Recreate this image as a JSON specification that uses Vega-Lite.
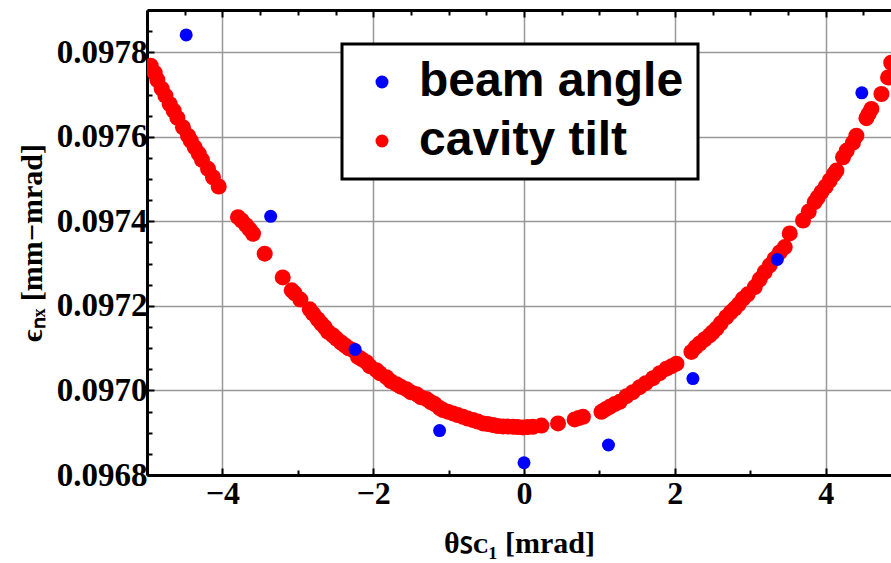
{
  "$schema": "https://vega.github.io/schema/vega-lite/v6.json",
  "width": 744,
  "height": 465,
  "autosize": {"type": "none"},
  "padding": {"left": 147, "top": 10, "right": 0, "bottom": 88},
  "background": "white",
  "config": {"view": {"stroke": null}, "font": "Liberation Serif"},
  "data": {"values": [
    {"theta": -4.951, "eps": 0.0977681, "series": "cavity tilt"},
    {"theta": -4.898, "eps": 0.0977516, "series": "cavity tilt"},
    {"theta": -4.862, "eps": 0.0977344, "series": "cavity tilt"},
    {"theta": -4.805, "eps": 0.0977138, "series": "cavity tilt"},
    {"theta": -4.756, "eps": 0.0976973, "series": "cavity tilt"},
    {"theta": -4.699, "eps": 0.0976777, "series": "cavity tilt"},
    {"theta": -4.646, "eps": 0.0976619, "series": "cavity tilt"},
    {"theta": -4.597, "eps": 0.0976446, "series": "cavity tilt"},
    {"theta": -4.523, "eps": 0.0976224, "series": "cavity tilt"},
    {"theta": -4.456, "eps": 0.0976028, "series": "cavity tilt"},
    {"theta": -4.420, "eps": 0.097591, "series": "cavity tilt"},
    {"theta": -4.367, "eps": 0.0975752, "series": "cavity tilt"},
    {"theta": -4.314, "eps": 0.0975603, "series": "cavity tilt"},
    {"theta": -4.271, "eps": 0.0975455, "series": "cavity tilt"},
    {"theta": -4.191, "eps": 0.0975242, "series": "cavity tilt"},
    {"theta": -4.125, "eps": 0.0975044, "series": "cavity tilt"},
    {"theta": -4.049, "eps": 0.0974824, "series": "cavity tilt"},
    {"theta": -3.793, "eps": 0.0974099, "series": "cavity tilt"},
    {"theta": -3.744, "eps": 0.0974021, "series": "cavity tilt"},
    {"theta": -3.682, "eps": 0.0973903, "series": "cavity tilt"},
    {"theta": -3.638, "eps": 0.0973809, "series": "cavity tilt"},
    {"theta": -3.594, "eps": 0.0973707, "series": "cavity tilt"},
    {"theta": -3.439, "eps": 0.0973235, "series": "cavity tilt"},
    {"theta": -3.200, "eps": 0.0972675, "series": "cavity tilt"},
    {"theta": -3.081, "eps": 0.0972368, "series": "cavity tilt"},
    {"theta": -3.041, "eps": 0.0972298, "series": "cavity tilt"},
    {"theta": -2.966, "eps": 0.0972149, "series": "cavity tilt"},
    {"theta": -2.842, "eps": 0.097192, "series": "cavity tilt"},
    {"theta": -2.798, "eps": 0.0971818, "series": "cavity tilt"},
    {"theta": -2.736, "eps": 0.0971684, "series": "cavity tilt"},
    {"theta": -2.687, "eps": 0.0971582, "series": "cavity tilt"},
    {"theta": -2.643, "eps": 0.0971495, "series": "cavity tilt"},
    {"theta": -2.599, "eps": 0.0971384, "series": "cavity tilt"},
    {"theta": -2.537, "eps": 0.0971306, "series": "cavity tilt"},
    {"theta": -2.488, "eps": 0.0971228, "series": "cavity tilt"},
    {"theta": -2.431, "eps": 0.0971141, "series": "cavity tilt"},
    {"theta": -2.378, "eps": 0.097107, "series": "cavity tilt"},
    {"theta": -2.325, "eps": 0.0970999, "series": "cavity tilt"},
    {"theta": -2.268, "eps": 0.0970952, "series": "cavity tilt"},
    {"theta": -2.202, "eps": 0.0970793, "series": "cavity tilt"},
    {"theta": -2.153, "eps": 0.0970739, "series": "cavity tilt"},
    {"theta": -2.090, "eps": 0.0970668, "series": "cavity tilt"},
    {"theta": -2.046, "eps": 0.0970574, "series": "cavity tilt"},
    {"theta": -1.958, "eps": 0.0970479, "series": "cavity tilt"},
    {"theta": -1.914, "eps": 0.0970409, "series": "cavity tilt"},
    {"theta": -1.825, "eps": 0.0970314, "series": "cavity tilt"},
    {"theta": -1.768, "eps": 0.097022, "series": "cavity tilt"},
    {"theta": -1.692, "eps": 0.0970149, "series": "cavity tilt"},
    {"theta": -1.635, "eps": 0.097009, "series": "cavity tilt"},
    {"theta": -1.560, "eps": 0.0970031, "series": "cavity tilt"},
    {"theta": -1.503, "eps": 0.096996, "series": "cavity tilt"},
    {"theta": -1.427, "eps": 0.0969913, "series": "cavity tilt"},
    {"theta": -1.370, "eps": 0.0969842, "series": "cavity tilt"},
    {"theta": -1.294, "eps": 0.0969795, "series": "cavity tilt"},
    {"theta": -1.237, "eps": 0.0969724, "series": "cavity tilt"},
    {"theta": -1.184, "eps": 0.0969677, "series": "cavity tilt"},
    {"theta": -1.118, "eps": 0.0969582, "series": "cavity tilt"},
    {"theta": -1.074, "eps": 0.0969535, "series": "cavity tilt"},
    {"theta": -1.012, "eps": 0.0969499, "series": "cavity tilt"},
    {"theta": -0.942, "eps": 0.0969457, "series": "cavity tilt"},
    {"theta": -0.879, "eps": 0.0969417, "series": "cavity tilt"},
    {"theta": -0.809, "eps": 0.0969377, "series": "cavity tilt"},
    {"theta": -0.747, "eps": 0.0969334, "series": "cavity tilt"},
    {"theta": -0.676, "eps": 0.0969299, "series": "cavity tilt"},
    {"theta": -0.614, "eps": 0.0969263, "series": "cavity tilt"},
    {"theta": -0.544, "eps": 0.0969221, "series": "cavity tilt"},
    {"theta": -0.481, "eps": 0.0969204, "series": "cavity tilt"},
    {"theta": -0.411, "eps": 0.0969181, "series": "cavity tilt"},
    {"theta": -0.349, "eps": 0.0969157, "series": "cavity tilt"},
    {"theta": -0.279, "eps": 0.096915, "series": "cavity tilt"},
    {"theta": -0.216, "eps": 0.0969145, "series": "cavity tilt"},
    {"theta": -0.146, "eps": 0.096914, "series": "cavity tilt"},
    {"theta": -0.084, "eps": 0.0969133, "series": "cavity tilt"},
    {"theta": -0.013, "eps": 0.0969126, "series": "cavity tilt"},
    {"theta": 0.049, "eps": 0.0969133, "series": "cavity tilt"},
    {"theta": 0.119, "eps": 0.096914, "series": "cavity tilt"},
    {"theta": 0.231, "eps": 0.0969169, "series": "cavity tilt"},
    {"theta": 0.451, "eps": 0.0969221, "series": "cavity tilt"},
    {"theta": 0.672, "eps": 0.0969315, "series": "cavity tilt"},
    {"theta": 0.725, "eps": 0.0969346, "series": "cavity tilt"},
    {"theta": 0.782, "eps": 0.0969377, "series": "cavity tilt"},
    {"theta": 1.027, "eps": 0.0969495, "series": "cavity tilt"},
    {"theta": 1.084, "eps": 0.0969558, "series": "cavity tilt"},
    {"theta": 1.137, "eps": 0.0969613, "series": "cavity tilt"},
    {"theta": 1.203, "eps": 0.0969677, "series": "cavity tilt"},
    {"theta": 1.269, "eps": 0.0969731, "series": "cavity tilt"},
    {"theta": 1.358, "eps": 0.0969865, "series": "cavity tilt"},
    {"theta": 1.442, "eps": 0.096996, "series": "cavity tilt"},
    {"theta": 1.534, "eps": 0.0970078, "series": "cavity tilt"},
    {"theta": 1.614, "eps": 0.0970172, "series": "cavity tilt"},
    {"theta": 1.711, "eps": 0.0970291, "series": "cavity tilt"},
    {"theta": 1.800, "eps": 0.0970409, "series": "cavity tilt"},
    {"theta": 1.889, "eps": 0.0970515, "series": "cavity tilt"},
    {"theta": 1.959, "eps": 0.0970574, "series": "cavity tilt"},
    {"theta": 2.021, "eps": 0.0970633, "series": "cavity tilt"},
    {"theta": 2.220, "eps": 0.0970912, "series": "cavity tilt"},
    {"theta": 2.277, "eps": 0.0971023, "series": "cavity tilt"},
    {"theta": 2.330, "eps": 0.097111, "series": "cavity tilt"},
    {"theta": 2.397, "eps": 0.0971211, "series": "cavity tilt"},
    {"theta": 2.463, "eps": 0.0971306, "series": "cavity tilt"},
    {"theta": 2.503, "eps": 0.0971377, "series": "cavity tilt"},
    {"theta": 2.552, "eps": 0.0971464, "series": "cavity tilt"},
    {"theta": 2.609, "eps": 0.0971589, "series": "cavity tilt"},
    {"theta": 2.684, "eps": 0.0971738, "series": "cavity tilt"},
    {"theta": 2.741, "eps": 0.0971849, "series": "cavity tilt"},
    {"theta": 2.794, "eps": 0.0971936, "series": "cavity tilt"},
    {"theta": 2.847, "eps": 0.0972038, "series": "cavity tilt"},
    {"theta": 2.905, "eps": 0.0972172, "series": "cavity tilt"},
    {"theta": 2.967, "eps": 0.0972274, "series": "cavity tilt"},
    {"theta": 3.060, "eps": 0.0972446, "series": "cavity tilt"},
    {"theta": 3.126, "eps": 0.0972628, "series": "cavity tilt"},
    {"theta": 3.192, "eps": 0.0972801, "series": "cavity tilt"},
    {"theta": 3.259, "eps": 0.0972959, "series": "cavity tilt"},
    {"theta": 3.325, "eps": 0.0973117, "series": "cavity tilt"},
    {"theta": 3.391, "eps": 0.0973266, "series": "cavity tilt"},
    {"theta": 3.458, "eps": 0.0973391, "series": "cavity tilt"},
    {"theta": 3.524, "eps": 0.0973714, "series": "cavity tilt"},
    {"theta": 3.700, "eps": 0.0974021, "series": "cavity tilt"},
    {"theta": 3.776, "eps": 0.0974234, "series": "cavity tilt"},
    {"theta": 3.855, "eps": 0.0974453, "series": "cavity tilt"},
    {"theta": 3.895, "eps": 0.0974564, "series": "cavity tilt"},
    {"theta": 3.944, "eps": 0.097469, "series": "cavity tilt"},
    {"theta": 4.001, "eps": 0.0974824, "series": "cavity tilt"},
    {"theta": 4.054, "eps": 0.0974966, "series": "cavity tilt"},
    {"theta": 4.107, "eps": 0.0975108, "series": "cavity tilt"},
    {"theta": 4.143, "eps": 0.0975202, "series": "cavity tilt"},
    {"theta": 4.231, "eps": 0.0975516, "series": "cavity tilt"},
    {"theta": 4.280, "eps": 0.0975674, "series": "cavity tilt"},
    {"theta": 4.363, "eps": 0.0975863, "series": "cavity tilt"},
    {"theta": 4.408, "eps": 0.0976028, "series": "cavity tilt"},
    {"theta": 4.541, "eps": 0.0976442, "series": "cavity tilt"},
    {"theta": 4.572, "eps": 0.0976548, "series": "cavity tilt"},
    {"theta": 4.607, "eps": 0.0976659, "series": "cavity tilt"},
    {"theta": 4.740, "eps": 0.0977013, "series": "cavity tilt"},
    {"theta": 4.828, "eps": 0.0977405, "series": "cavity tilt"},
    {"theta": 4.870, "eps": 0.0977752, "series": "cavity tilt"},
    {"theta": -4.48, "eps": 0.097841, "series": "beam angle"},
    {"theta": -3.36, "eps": 0.097412, "series": "beam angle"},
    {"theta": -2.24, "eps": 0.097097, "series": "beam angle"},
    {"theta": -1.12, "eps": 0.096905, "series": "beam angle"},
    {"theta": 0.0, "eps": 0.096829, "series": "beam angle"},
    {"theta": 1.12, "eps": 0.096871, "series": "beam angle"},
    {"theta": 2.24, "eps": 0.097028, "series": "beam angle"},
    {"theta": 3.36, "eps": 0.09731, "series": "beam angle"},
    {"theta": 4.48, "eps": 0.097704, "series": "beam angle"}
  ]},
  "encoding": {
    "y": {
      "field": "eps", "type": "quantitative",
      "scale": {"domain": [0.0968, 0.0979], "nice": false, "zero": false},
      "axis": {
        "values": [0.0968, 0.09685, 0.0969, 0.09695, 0.097, 0.09705, 0.0971, 0.09715, 0.0972, 0.09725, 0.0973, 0.09735, 0.0974, 0.09745, 0.0975, 0.09755, 0.0976, 0.09765, 0.0977, 0.09775, 0.0978, 0.09785],
        "format": ".4f",
        "labelExpr": "round(datum.value*100000) % 20 === 0 ? datum.label : ''",
        "labelFont": "Liberation Serif", "labelFontWeight": "bold", "labelFontSize": 33, "labelColor": "black",
        "labelPadding": 7,
        "domainColor": "black", "domainWidth": 3,
        "tickColor": "black", "tickWidth": 2,
        "tickSize": {"condition": {"test": "round(datum.value*100000) % 20 === 0", "value": -7}, "value": -5},
        "grid": true, "gridColor": "#999999", "gridWidth": 1.5,
        "gridOpacity": {"condition": {"test": "round(datum.value*100000) % 20 === 0", "value": 1}, "value": 0},
        "title": "ϵₙₓ [mm−mrad]",
        "titleFont": "Liberation Serif", "titleFontWeight": "bold", "titleFontSize": 30, "titleColor": "black",
        "titlePadding": 9
      }
    },
    "color": {
      "field": "series", "type": "nominal",
      "scale": {"domain": ["beam angle", "cavity tilt"], "range": ["#0000ff", "#ff0000"]},
      "legend": {
        "orient": "none", "legendX": 195, "legendY": 34, "title": null,
        "labelFont": "Liberation Sans", "labelFontWeight": "bold", "labelFontSize": 48, "labelColor": "black",
        "labelLimit": 600,
        "labelExpr": "datum.label + '\u00a0'",
        "symbolType": "circle", "symbolSize": 169, "symbolStrokeWidth": 0, "symbolOpacity": 1,
        "symbolOffset": 2, "labelOffset": 13,
        "padding": 14, "rowPadding": 11,
        "strokeColor": "black", "fillColor": "white",
        "encode": {"legend": {"update": {"strokeWidth": {"value": 3}}}}
      }
    }
  },
  "layer": [
    {
      "transform": [{"filter": "datum.series === 'cavity tilt'"}],
      "mark": {"type": "point", "filled": true, "opacity": 1, "size": 256, "strokeWidth": 0, "clip": true},
      "encoding": {
        "x": {
          "field": "theta", "type": "quantitative",
          "scale": {"domain": [-5, 4.867], "nice": false, "zero": false},
          "axis": {
            "orient": "bottom",
            "values": [-5, -4.5, -4, -3.5, -3, -2.5, -2, -1.5, -1, -0.5, 0, 0.5, 1, 1.5, 2, 2.5, 3, 3.5, 4, 4.5],
            "format": "d",
            "labelExpr": "datum.value % 2 === 0 ? datum.label : ''",
            "labelFont": "Liberation Serif", "labelFontWeight": "bold", "labelFontSize": 32, "labelColor": "black",
            "labelPadding": 10,
            "domainColor": "black", "domainWidth": 3,
            "tickColor": "black", "tickWidth": 2,
            "tickSize": {"condition": {"test": "datum.value % 2 === 0", "value": -7}, "value": -5},
            "grid": true, "gridColor": "#999999", "gridWidth": 1.5,
            "gridOpacity": {"condition": {"test": "datum.value % 2 === 0", "value": 1}, "value": 0},
            "title": "θꜱᴄ₁ [mrad]",
            "titleFont": "Liberation Serif", "titleFontWeight": "bold", "titleFontSize": 30, "titleColor": "black",
            "titlePadding": 19
          }
        }
      }
    },
    {
      "transform": [{"filter": "datum.series === 'beam angle'"}],
      "mark": {"type": "point", "filled": true, "opacity": 1, "size": 169, "strokeWidth": 0, "clip": true},
      "encoding": {
        "x": {
          "field": "theta", "type": "quantitative",
          "scale": {"domain": [-5, 4.867], "nice": false, "zero": false},
          "axis": {
            "orient": "top",
            "values": [-5, -4.5, -4, -3.5, -3, -2.5, -2, -1.5, -1, -0.5, 0, 0.5, 1, 1.5, 2, 2.5, 3, 3.5, 4, 4.5],
            "labels": false, "title": null, "grid": false,
            "domainColor": "black", "domainWidth": 3,
            "tickColor": "black", "tickWidth": 2,
            "tickSize": {"condition": {"test": "datum.value % 2 === 0", "value": -7}, "value": -5}
          }
        }
      }
    }
  ],
  "resolve": {"axis": {"x": "independent"}}
}
